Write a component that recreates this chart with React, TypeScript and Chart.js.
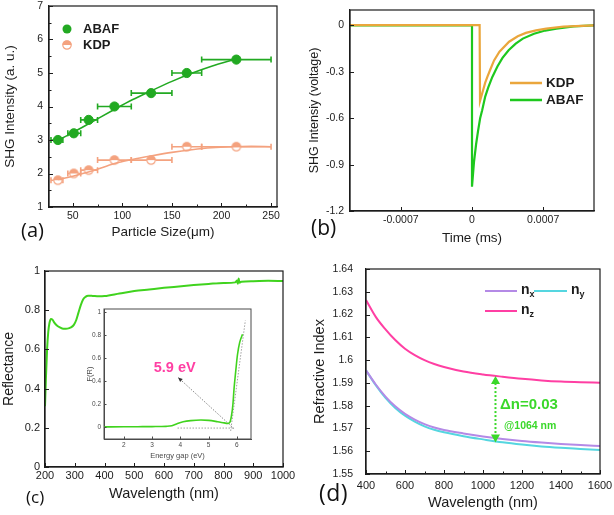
import React, { useEffect, useRef } from "react";
import { Chart, registerables } from "chart.js";

Chart.register(...registerables);

const FONT = "'Liberation Sans', Arial, Helvetica, sans-serif";
const INK = "#1c1c1c";
Chart.defaults.font.family = FONT;

// ---------------- (a) SHG intensity vs particle size ----------------
const SIZE_UM = [35, 51, 66, 92, 129, 165, 215];
const SIZE_MIN = [28, 45, 58, 75, 109, 150, 180];
const SIZE_MAX = [40, 58, 75, 109, 150, 180, 250];
const ABAF_SHG = [3.0, 3.2, 3.6, 4.0, 4.4, 5.0, 5.4];
const KDP_SHG = [1.8, 2.0, 2.1, 2.4, 2.4, 2.8, 2.8];
const ABAF_FIT_X = [33, 50, 70, 90, 110, 130, 150, 170, 190, 215];
const ABAF_FIT_Y = [2.96, 3.22, 3.55, 3.88, 4.2, 4.48, 4.75, 4.99, 5.2, 5.42];
const KDP_FIT_X = [35, 50, 70, 92, 110, 130, 150, 170, 190, 210, 230, 250];
const KDP_FIT_Y = [1.82, 1.92, 2.08, 2.3, 2.42, 2.53, 2.63, 2.71, 2.77, 2.8, 2.81, 2.8];
const A_XTICKS = [50, 100, 150, 200, 250];
const A_XMINOR = [75, 125, 175, 225];
const A_YTICKS = [1, 2, 3, 4, 5, 6, 7];
const A_YMINOR = [1.5, 2.5, 3.5, 4.5, 5.5, 6.5];

// ---------------- (b) SHG signal vs time ----------------
const B_ABAF_T = [-0.0012, 0, 0, 0.00002, 0.00004, 0.00006, 0.00008, 0.0001, 0.00013, 0.00016, 0.0002, 0.00025, 0.0003, 0.00036, 0.00043, 0.0005, 0.00061, 0.00072, 0.00083, 0.001, 0.0012];
const B_ABAF_V = [0, 0, -1.043, -0.88, -0.77, -0.68, -0.6, -0.548, -0.46, -0.4, -0.333, -0.265, -0.21, -0.16, -0.118, -0.085, -0.054, -0.033, -0.021, -0.006, 0];
const B_KDP_T = [-0.0012, 0.000075, 0.000079, 0.0001, 0.00013, 0.000151, 0.00018, 0.000217, 0.00027, 0.000365, 0.00045, 0.00053, 0.00063, 0.00073, 0.0009, 0.0012];
const B_KDP_V = [0.002, 0.002, -0.488, -0.44, -0.37, -0.333, -0.285, -0.226, -0.17, -0.105, -0.07, -0.048, -0.032, -0.02, -0.008, 0];
const B_XTICKS = [-0.0007, 0, 0.0007];
const B_YTICKS = [-1.2, -0.9, -0.6, -0.3, 0];

// ---------------- (c) reflectance + inset ----------------
const C_WL = [200, 203, 207, 211, 215, 220, 225, 232, 240, 250, 262, 275, 287, 297, 305, 312, 320, 328, 336, 345, 360, 380, 400, 450, 500, 550, 600, 650, 700, 750, 800, 840, 845, 848, 851, 854, 860, 900, 950, 1000];
const C_R = [0.31, 0.45, 0.6, 0.69, 0.735, 0.755, 0.752, 0.735, 0.722, 0.712, 0.705, 0.706, 0.712, 0.725, 0.75, 0.785, 0.825, 0.855, 0.868, 0.874, 0.873, 0.871, 0.872, 0.885, 0.898, 0.906, 0.914, 0.921, 0.928, 0.934, 0.939, 0.942, 0.952, 0.935, 0.962, 0.94, 0.945, 0.948, 0.95, 0.949];
const C_XTICKS = [200, 300, 400, 500, 600, 700, 800, 900, 1000];
const C_YTICKS = [0, 0.2, 0.4, 0.6, 0.8, 1];
const INSET_E = [1.3, 2, 2.5, 3, 3.5, 3.7, 3.9, 4.1, 4.37, 4.73, 5.0, 5.32, 5.55, 5.67, 5.75, 5.81, 5.86, 5.9, 5.96, 6.02, 6.1, 6.2];
const INSET_F = [0.005, 0.006, 0.007, 0.008, 0.01, 0.015, 0.035, 0.05, 0.06, 0.065, 0.062, 0.05, 0.04, 0.035, 0.045, 0.104, 0.2, 0.336, 0.49, 0.63, 0.74, 0.81];
const INSET_XTICKS = [2, 3, 4, 5, 6];
const INSET_YTICKS = [0, 0.2, 0.4, 0.6, 0.8, 1];
const GAP_LABEL = "5.9 eV";
const GAP_EV = 5.9;

// ---------------- (d) refractive index ----------------
const D_WL = [400, 450, 500, 550, 600, 650, 700, 750, 800, 900, 1000, 1100, 1200, 1300, 1400, 1500, 1600];
const D_NX = [1.5955, 1.5893, 1.584, 1.5797, 1.5764, 1.5739, 1.5719, 1.5704, 1.5693, 1.5678, 1.5665, 1.5654, 1.5645, 1.5638, 1.5632, 1.5627, 1.5623];
const D_NY = [1.5955, 1.589, 1.5834, 1.579, 1.5756, 1.573, 1.5709, 1.5694, 1.5683, 1.5666, 1.5652, 1.5639, 1.5629, 1.5621, 1.5615, 1.561, 1.5605];
const D_NZ = [1.6264, 1.619, 1.6135, 1.6088, 1.605, 1.6022, 1.6, 1.5983, 1.597, 1.595, 1.5937, 1.5927, 1.5918, 1.5911, 1.5906, 1.5903, 1.5901];
const D_XTICKS = [400, 600, 800, 1000, 1200, 1400, 1600];
const D_XMINOR = [500, 700, 900, 1100, 1300, 1500];
const D_YTICKS = [1.55, 1.56, 1.57, 1.58, 1.59, 1.6, 1.61, 1.62, 1.63, 1.64];
const D_LASER = 1064;
const D_NZ_AT = 1.593;
const D_NY_AT = 1.5638;

// colours
const GREEN_A = "#22a922";
const SALMON_A = "#f4a27f";
const ORANGE_B = "#eaa63c";
const GREEN_B = "#1ec81e";
const GREEN_C = "#40d31e";
const NX_C = "#b48ae6";
const NY_C = "#55d6e0";
const NZ_C = "#ff3fa3";
const DN_C = "#3ad82a";

const pts = (xs: number[], ys: number[]) => xs.map((x, i) => ({ x, y: ys[i] }));

type AxisOpt = {
  min: number; max: number; ticks: number[]; size: number; horizontal: boolean;
  title: string; titleSize: number; titlePad: number; tickSize: number; tickPad: number;
  color?: string; borderW?: number;
};

function axis(o: AxisOpt) {
  const c = o.color || INK;
  return {
    type: "linear",
    min: o.min,
    max: o.max,
    afterBuildTicks: (s: any) => { s.ticks = o.ticks.map((v) => ({ value: v })); },
    afterFit: (s: any) => {
      if (o.horizontal) s.height = o.size; else s.width = o.size;
      s.paddingTop = 0; s.paddingBottom = 0; s.paddingLeft = 0; s.paddingRight = 0;
    },
    grid: { drawOnChartArea: false, drawTicks: false },
    border: { display: true, color: c, width: o.borderW ?? 1.2 },
    ticks: {
      autoSkip: false, maxRotation: 0, minRotation: 0, color: c, padding: o.tickPad,
      font: { family: FONT, size: o.tickSize }, callback: (v: any) => String(v),
    },
    title: {
      display: true, text: o.title, color: c, font: { family: FONT, size: o.titleSize },
      padding: o.horizontal ? { top: 0, bottom: o.titlePad } : { top: o.titlePad, bottom: 0 },
    },
  };
}

const framePlugin = {
  id: "frame",
  afterDraw(chart: any, _a: any, opts: any) {
    const { ctx, chartArea: a } = chart;
    ctx.save();
    ctx.strokeStyle = opts.color || INK;
    ctx.lineWidth = opts.width || 1.2;
    ctx.strokeRect(a.left, a.top, a.right - a.left, a.bottom - a.top);
    ctx.restore();
  },
};

// inward major / minor tick marks
const inTicksPlugin = {
  id: "inticks",
  afterDraw(chart: any, _a: any, opts: any) {
    const { ctx, chartArea: a, scales } = chart;
    ctx.save();
    ctx.strokeStyle = opts.color || INK;
    ctx.lineWidth = 1;
    const draw = (id: string, vals: number[] | undefined, len: number) => {
      const s = scales[id];
      if (!s || !vals) return;
      vals.forEach((v) => {
        const p = s.getPixelForValue(v);
        ctx.beginPath();
        if (s.isHorizontal()) {
          const px = Math.round(p) + 0.5;
          ctx.moveTo(px, a.bottom); ctx.lineTo(px, a.bottom - len);
        } else {
          const py = Math.round(p) + 0.5;
          ctx.moveTo(a.left, py); ctx.lineTo(a.left + len, py);
        }
        ctx.stroke();
      });
    };
    const L = opts.len ?? 4, l = opts.minorLen ?? 2.5;
    draw("x", opts.xMajor, L); draw("x", opts.xMinor, l);
    draw("y", opts.yMajor, L); draw("y", opts.yMinor, l);
    ctx.restore();
  },
};

const errorBarPlugin = {
  id: "errbars",
  beforeDatasetsDraw(chart: any) {
    const { ctx, scales } = chart;
    const x = scales.x, y = scales.y;
    chart.data.datasets.forEach((ds: any) => {
      if (!ds.errMin) return;
      ctx.save();
      ctx.strokeStyle = ds.errColor;
      ctx.lineWidth = 1.6;
      ds.data.forEach((p: any, i: number) => {
        const py = y.getPixelForValue(p.y);
        const x0 = x.getPixelForValue(ds.errMin[i]);
        const x1 = x.getPixelForValue(ds.errMax[i]);
        ctx.beginPath();
        ctx.moveTo(x0, py); ctx.lineTo(x1, py);
        ctx.moveTo(x0, py - 3); ctx.lineTo(x0, py + 3);
        ctx.moveTo(x1, py - 3); ctx.lineTo(x1, py + 3);
        ctx.stroke();
      });
      ctx.restore();
    });
  },
};

function halfMarker(color: string, r: number) {
  const c = document.createElement("canvas");
  const s = Math.ceil(r * 2 + 3);
  c.width = s; c.height = s;
  const g = c.getContext("2d")!;
  const cx = s / 2, cy = s / 2;
  g.fillStyle = "#fff";
  g.beginPath(); g.arc(cx, cy, r, 0, Math.PI * 2); g.fill();
  g.fillStyle = color;
  g.beginPath(); g.arc(cx, cy, r, Math.PI, 2 * Math.PI); g.closePath(); g.fill();
  g.strokeStyle = color; g.lineWidth = 1.2;
  g.beginPath(); g.arc(cx, cy, r - 0.3, 0, Math.PI * 2); g.stroke();
  return c;
}

const baseOptions = {
  responsive: false,
  animation: false,
  events: [],
  devicePixelRatio: 1,
};

function makeA() {
  const kdpMarker = halfMarker(SALMON_A, 4.5);
  const legend = {
    id: "legA",
    afterDraw(chart: any) {
      const { ctx, chartArea: a } = chart;
      const lx = a.left + 18, ly = a.top + 23;
      ctx.save();
      ctx.fillStyle = GREEN_A;
      ctx.beginPath(); ctx.arc(lx, ly, 4.5, 0, Math.PI * 2); ctx.fill();
      ctx.drawImage(kdpMarker, lx - kdpMarker.width / 2, ly + 16 - kdpMarker.height / 2);
      ctx.fillStyle = INK;
      ctx.font = `bold 13px ${FONT}`;
      ctx.textBaseline = "middle";
      ctx.fillText("ABAF", lx + 16, ly);
      ctx.fillText("KDP", lx + 16, ly + 16);
      ctx.restore();
    },
  };
  return {
    type: "scatter",
    data: {
      datasets: [
        { label: "KDP fit", data: pts(KDP_FIT_X, KDP_FIT_Y), showLine: true, borderColor: SALMON_A, borderWidth: 1.6, pointRadius: 0, cubicInterpolationMode: "monotone" },
        { label: "ABAF fit", data: pts(ABAF_FIT_X, ABAF_FIT_Y), showLine: true, borderColor: GREEN_A, borderWidth: 1.6, pointRadius: 0, cubicInterpolationMode: "monotone" },
        { label: "KDP", data: pts(SIZE_UM, KDP_SHG), pointStyle: kdpMarker, pointRadius: 4.5, errMin: SIZE_MIN, errMax: SIZE_MAX, errColor: SALMON_A },
        { label: "ABAF", data: pts(SIZE_UM, ABAF_SHG), pointRadius: 4.6, backgroundColor: GREEN_A, borderColor: GREEN_A, errMin: SIZE_MIN, errMax: SIZE_MAX, errColor: GREEN_A },
      ],
    },
    options: {
      ...baseOptions,
      layout: { padding: { top: 6, right: 30, left: 0, bottom: 0 } },
      plugins: {
        legend: { display: false }, tooltip: { enabled: false },
        inticks: { xMajor: A_XTICKS, xMinor: A_XMINOR, yMajor: A_YTICKS, yMinor: A_YMINOR },
      },
      scales: {
        x: axis({ min: 26, max: 256, ticks: A_XTICKS, size: 50, horizontal: true, title: "Particle Size(\u03bcm)", titleSize: 13.5, titlePad: 17, tickSize: 10.5, tickPad: 3 }),
        y: axis({ min: 1, max: 7, ticks: A_YTICKS, size: 49, horizontal: false, title: "SHG Intensity (a. u.)", titleSize: 13.5, titlePad: 2, tickSize: 10.5, tickPad: 6 }),
      },
    },
    plugins: [errorBarPlugin, framePlugin, inTicksPlugin, legend],
  };
}

function makeB() {
  const legend = {
    id: "legB",
    afterDraw(chart: any) {
      const { ctx, chartArea: a } = chart;
      const x0 = a.left + 160, x1 = a.left + 192, y0 = a.top + 73;
      ctx.save();
      ctx.lineWidth = 2.5;
      ctx.strokeStyle = ORANGE_B;
      ctx.beginPath(); ctx.moveTo(x0, y0); ctx.lineTo(x1, y0); ctx.stroke();
      ctx.strokeStyle = GREEN_B;
      ctx.beginPath(); ctx.moveTo(x0, y0 + 17); ctx.lineTo(x1, y0 + 17); ctx.stroke();
      ctx.fillStyle = INK;
      ctx.font = `bold 13.5px ${FONT}`;
      ctx.textBaseline = "middle";
      ctx.fillText("KDP", x1 + 4, y0);
      ctx.fillText("ABAF", x1 + 4, y0 + 17);
      ctx.restore();
    },
  };
  return {
    type: "scatter",
    data: {
      datasets: [
        { label: "KDP", data: pts(B_KDP_T, B_KDP_V), showLine: true, borderColor: ORANGE_B, borderWidth: 2.2, pointRadius: 0, tension: 0 },
        { label: "ABAF", data: pts(B_ABAF_T, B_ABAF_V), showLine: true, borderColor: GREEN_B, borderWidth: 2.2, pointRadius: 0, tension: 0 },
      ],
    },
    options: {
      ...baseOptions,
      layout: { padding: { top: 10, right: 20, left: 0, bottom: 0 } },
      plugins: {
        legend: { display: false }, tooltip: { enabled: false },
        inticks: { xMajor: B_XTICKS, yMajor: B_YTICKS },
      },
      scales: {
        x: axis({ min: -0.0012, max: 0.0012, ticks: B_XTICKS, size: 46, horizontal: true, title: "Time (ms)", titleSize: 13.5, titlePad: 11, tickSize: 10.5, tickPad: 3 }),
        y: axis({ min: -1.2, max: 0.1, ticks: B_YTICKS, size: 43, horizontal: false, title: "SHG Intensiy (voltage)", titleSize: 12.5, titlePad: 0, tickSize: 10.5, tickPad: 6 }),
      },
    },
    plugins: [framePlugin, inTicksPlugin, legend],
  };
}

function makeC() {
  return {
    type: "scatter",
    data: {
      datasets: [
        { label: "R", data: pts(C_WL, C_R), showLine: true, borderColor: GREEN_C, borderWidth: 2, pointRadius: 0, cubicInterpolationMode: "monotone" },
      ],
    },
    options: {
      ...baseOptions,
      layout: { padding: { top: 14, right: 24, left: 0, bottom: 0 } },
      plugins: {
        legend: { display: false }, tooltip: { enabled: false },
        inticks: { xMajor: C_XTICKS, yMajor: C_YTICKS },
      },
      scales: {
        x: axis({ min: 200, max: 1000, ticks: C_XTICKS, size: 48, horizontal: true, title: "Wavelength (nm)", titleSize: 14.5, titlePad: 12, tickSize: 11, tickPad: 2 }),
        y: axis({ min: 0, max: 1, ticks: C_YTICKS, size: 45, horizontal: false, title: "Reflectance", titleSize: 14, titlePad: 1, tickSize: 11, tickPad: 5 }),
      },
    },
    plugins: [framePlugin, inTicksPlugin],
  };
}

function makeInset() {
  const annot = {
    id: "gap",
    beforeDatasetsDraw(chart: any) {
      const { ctx, scales: { x, y } } = chart;
      ctx.save();
      ctx.strokeStyle = "#8a8a8a";
      ctx.lineWidth = 0.8;
      ctx.setLineDash([1.5, 1.5]);
      ctx.beginPath();
      ctx.moveTo(x.getPixelForValue(3.9), y.getPixelForValue(-0.005));
      ctx.lineTo(x.getPixelForValue(GAP_EV), y.getPixelForValue(-0.005));
      ctx.moveTo(x.getPixelForValue(5.78), y.getPixelForValue(-0.03));
      ctx.lineTo(x.getPixelForValue(6.3), y.getPixelForValue(0.93));
      ctx.stroke();
      const ax = x.getPixelForValue(3.92), ay = y.getPixelForValue(0.435);
      const bx = x.getPixelForValue(GAP_EV), by = y.getPixelForValue(-0.01);
      ctx.strokeStyle = "#6a6a6a";
      ctx.beginPath(); ctx.moveTo(bx, by); ctx.lineTo(ax, ay); ctx.stroke();
      ctx.setLineDash([]);
      const ang = Math.atan2(ay - by, ax - bx);
      ctx.fillStyle = "#333";
      ctx.beginPath();
      ctx.moveTo(ax, ay);
      ctx.lineTo(ax - 5 * Math.cos(ang - 0.4), ay - 5 * Math.sin(ang - 0.4));
      ctx.lineTo(ax - 5 * Math.cos(ang + 0.4), ay - 5 * Math.sin(ang + 0.4));
      ctx.closePath(); ctx.fill();
      ctx.fillStyle = NZ_C;
      ctx.font = `bold 14.5px ${FONT}`;
      ctx.textAlign = "center";
      ctx.textBaseline = "middle";
      ctx.fillText(GAP_LABEL, x.getPixelForValue(3.8), y.getPixelForValue(0.515));
      ctx.restore();
    },
  };
  const bg = {
    id: "bg",
    beforeDraw(chart: any) {
      const { ctx, chartArea: a } = chart;
      ctx.save(); ctx.fillStyle = "#fff"; ctx.fillRect(a.left, a.top, a.right - a.left, a.bottom - a.top); ctx.restore();
    },
  };
  const GRAY = "#4a4a4a";
  return {
    type: "scatter",
    data: {
      datasets: [
        { label: "F(R)", data: pts(INSET_E, INSET_F), showLine: true, borderColor: GREEN_C, borderWidth: 1.6, pointRadius: 0, cubicInterpolationMode: "monotone" },
      ],
    },
    options: {
      ...baseOptions,
      layout: { padding: { top: 9, right: 7, left: 0, bottom: 0 } },
      plugins: {
        legend: { display: false }, tooltip: { enabled: false }, frame: { color: GRAY, width: 1 },
        inticks: { color: GRAY, len: 2.5, xMajor: INSET_XTICKS, yMajor: INSET_YTICKS },
      },
      scales: {
        x: axis({ min: 1.3, max: 6.5, ticks: INSET_XTICKS, size: 26, horizontal: true, title: "Energy gap (eV)", titleSize: 7.5, titlePad: 4.5, tickSize: 6.5, tickPad: 2, color: GRAY, borderW: 1 }),
        y: axis({ min: -0.1, max: 1.03, ticks: INSET_YTICKS, size: 26, horizontal: false, title: "F(R)", titleSize: 7.5, titlePad: 7.5, tickSize: 6.5, tickPad: 3, color: GRAY, borderW: 1 }),
      },
    },
    plugins: [bg, annot, framePlugin, inTicksPlugin],
  };
}

function makeD() {
  const extras = {
    id: "dExtras",
    afterDraw(chart: any) {
      const { ctx, chartArea: a, scales: { x, y } } = chart;
      ctx.save();
      const L = a.left + 119, R = a.left + 151, T = a.top + 22;
      ctx.lineWidth = 2;
      ctx.strokeStyle = NX_C; ctx.beginPath(); ctx.moveTo(L, T); ctx.lineTo(R, T); ctx.stroke();
      ctx.strokeStyle = NY_C; ctx.beginPath(); ctx.moveTo(L + 49, T); ctx.lineTo(L + 82, T); ctx.stroke();
      ctx.strokeStyle = NZ_C; ctx.beginPath(); ctx.moveTo(L, T + 20); ctx.lineTo(R, T + 20); ctx.stroke();
      ctx.fillStyle = INK;
      ctx.textBaseline = "middle";
      const sub = (base: number, yy: number, s: string) => {
        ctx.font = `bold 14px ${FONT}`;
        ctx.fillText("n", base, yy - 1);
        const w = ctx.measureText("n").width;
        ctx.font = `bold 9px ${FONT}`;
        ctx.fillText(s, base + w, yy + 4);
      };
      sub(R + 4, T, "x");
      sub(L + 86, T, "y");
      sub(R + 4, T + 20, "z");
      const px = x.getPixelForValue(D_LASER);
      const top = y.getPixelForValue(D_NZ_AT), bot = y.getPixelForValue(D_NY_AT);
      ctx.strokeStyle = DN_C; ctx.fillStyle = DN_C; ctx.lineWidth = 2;
      ctx.setLineDash([2, 2]);
      ctx.beginPath(); ctx.moveTo(px, top + 7); ctx.lineTo(px, bot - 7); ctx.stroke();
      ctx.setLineDash([]);
      ctx.beginPath(); ctx.moveTo(px, top); ctx.lineTo(px - 4.5, top + 8); ctx.lineTo(px + 4.5, top + 8); ctx.closePath(); ctx.fill();
      ctx.beginPath(); ctx.moveTo(px, bot); ctx.lineTo(px - 4.5, bot - 8); ctx.lineTo(px + 4.5, bot - 8); ctx.closePath(); ctx.fill();
      ctx.font = `bold 15px ${FONT}`;
      ctx.fillText("\u0394n=0.03", x.getPixelForValue(1087), y.getPixelForValue(1.5803));
      ctx.font = `bold 10.5px ${FONT}`;
      ctx.fillText("@1064 nm", x.getPixelForValue(1108), y.getPixelForValue(1.5711));
      ctx.restore();
    },
  };
  const line = (label: string, ys: number[], color: string) => ({
    label, data: pts(D_WL, ys), showLine: true, borderColor: color, borderWidth: 2, pointRadius: 0, cubicInterpolationMode: "monotone",
  });
  return {
    type: "scatter",
    data: { datasets: [line("nx", D_NX, NX_C), line("ny", D_NY, NY_C), line("nz", D_NZ, NZ_C)] },
    options: {
      ...baseOptions,
      layout: { padding: { top: 12, right: 14, left: 0, bottom: 0 } },
      plugins: {
        legend: { display: false }, tooltip: { enabled: false },
        inticks: { xMajor: D_XTICKS, xMinor: D_XMINOR, yMajor: D_YTICKS },
      },
      scales: {
        x: axis({ min: 400, max: 1600, ticks: D_XTICKS, size: 41, horizontal: true, title: "Wavelength (nm)", titleSize: 14.5, titlePad: 3, tickSize: 11, tickPad: 5 }),
        y: axis({ min: 1.55, max: 1.64, ticks: D_YTICKS, size: 59, horizontal: false, title: "Refractive Index", titleSize: 14.5, titlePad: 4, tickSize: 10.5, tickPad: 13 }),
      },
    },
    plugins: [framePlugin, inTicksPlugin, extras],
  };
}

function ChartCanvas(props: { left: number; top: number; width: number; height: number; make: () => any }) {
  const ref = useRef<HTMLCanvasElement | null>(null);
  useEffect(() => {
    const chart = new Chart(ref.current as HTMLCanvasElement, props.make());
    return () => chart.destroy();
  }, []);
  const { left, top, width, height } = props;
  return (
    <canvas
      ref={ref}
      width={width}
      height={height}
      style={{ position: "absolute", left, top, width, height, display: "block" }}
    />
  );
}

function PanelLabel(props: { text: string; left: number; cy: number; size: number; spacing?: number }) {
  return (
    <div
      style={{
        position: "absolute",
        left: props.left,
        top: props.cy - props.size * 0.62,
        fontFamily: "'Open Sans', 'Liberation Sans', sans-serif",
        fontSize: props.size,
        lineHeight: 1,
        letterSpacing: props.spacing || 0,
        color: "#111",
        whiteSpace: "nowrap",
      }}
    >
      {props.text}
    </div>
  );
}

export default function App() {
  return (
    <div style={{ position: "fixed", left: 0, top: 0, width: 614, height: 515, background: "#fff", overflow: "hidden" }}>
      <ChartCanvas left={0} top={0} width={307} height={257} make={makeA} />
      <ChartCanvas left={307} top={0} width={307} height={257} make={makeB} />
      <ChartCanvas left={0} top={257} width={307} height={258} make={makeC} />
      <ChartCanvas left={78} top={300} width={180} height={165} make={makeInset} />
      <ChartCanvas left={307} top={257} width={307} height={258} make={makeD} />
      <PanelLabel text="(a)" left={21} cy={232} size={20} />
      <PanelLabel text="(b)" left={311} cy={230} size={21} />
      <PanelLabel text="(c)" left={26} cy={499} size={17} />
      <PanelLabel text="(d)" left={319} cy={495} size={23} spacing={0.5} />
    </div>
  );
}
